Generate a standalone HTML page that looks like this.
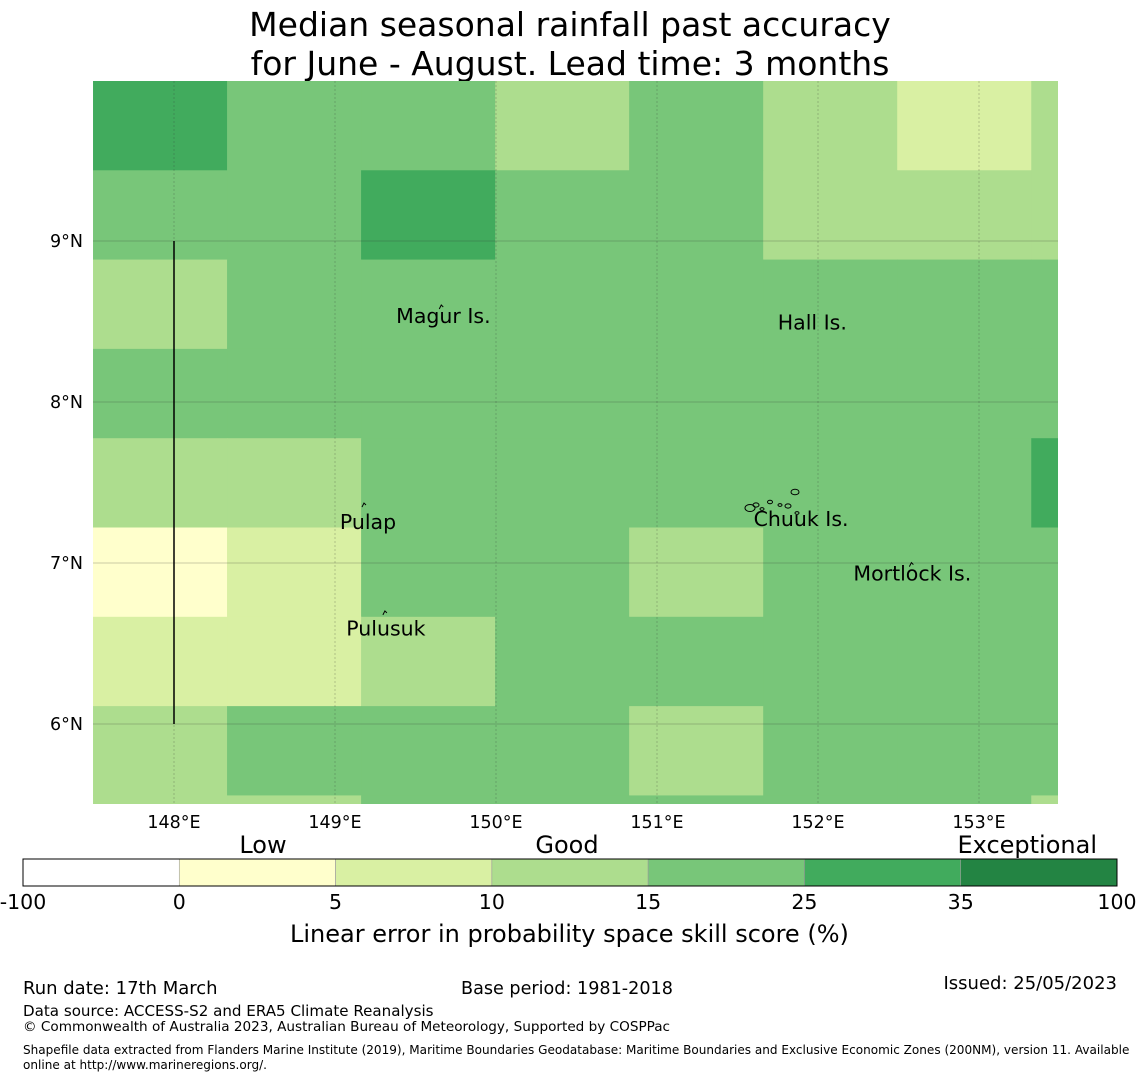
<!DOCTYPE html>
<html><head><meta charset="utf-8">
<style>
body{margin:0;background:#fff;}
svg{display:block;font-family:"DejaVu Sans","Liberation Sans",sans-serif;}
</style></head>
<body>
<svg id="chart" width="1140" height="1080" viewBox="0 0 1140 1080">
<text x="570" y="36" font-size="33" text-anchor="middle">Median seasonal rainfall past accuracy</text>
<text x="570" y="75" font-size="33" text-anchor="middle">for June - August. Lead time: 3 months</text>
<defs><clipPath id="mapclip"><rect x="93" y="81" width="965" height="723"/></clipPath></defs>
<g id="cells" clip-path="url(#mapclip)"></g>
<g id="grid" clip-path="url(#mapclip)"></g>
<g id="overlay"></g>
<g id="axes"></g>
<g id="cbar"></g>
<text x="290" y="942" font-size="24">Linear error in probability space skill score (%)</text>
<text x="23" y="994" font-size="18">Run date: 17th March</text>
<text x="461" y="994" font-size="17.6">Base period: 1981-2018</text>
<text x="1117" y="989" font-size="18" text-anchor="end">Issued: 25/05/2023</text>
<text x="23" y="1016" font-size="15.1">Data source: ACCESS-S2 and ERA5 Climate Reanalysis</text>
<text x="23" y="1031" font-size="13.6">© Commonwealth of Australia 2023, Australian Bureau of Meteorology, Supported by COSPPac</text>
<text x="23" y="1054" font-size="12.05">Shapefile data extracted from Flanders Marine Institute (2019), Maritime Boundaries Geodatabase: Maritime Boundaries and Exclusive Economic Zones (200NM), version 11. Available</text>
<text x="23" y="1069" font-size="12.05">online at http://www.marineregions.org/.</text>
</svg>
<script>
// grid values (skill score %), rows north to south
const row0 = [30,20,20,12,20,12,7,12];
const row1 = [20,20,30,20,20,12,12,12];
const row2 = [12,20,20,20,20,20,20,20];
const row3 = [20,20,20,20,20,20,20,20];
const row4 = [12,12,20,20,20,20,20,30];
const row5 = [3,7,20,20,12,20,20,20];
const row6 = [7,7,12,20,20,20,20,20];
const row7 = [12,20,20,20,12,20,20,20];
const row8 = [12,12,20,20,20,20,20,12];
const gridRows = [row0,row1,row2,row3,row4,row5,row6,row7,row8];
const lonTicks = [148,149,150,151,152,153];
const latTicks = [9,8,7,6];
const levels = [-100,0,5,10,15,25,35,100];
const levelColors = ["#ffffff","#ffffcc","#d9f0a3","#addd8e","#78c679","#41ab5d","#238443"];
const cbLabels = ["-100","0","5","10","15","25","35","100"];
const categoryNames = ["Low","Good","Exceptional"];
const places = [
 {name:"Magur Is.", lon:149.38, lat:8.49, mlon:149.66, mlat:8.59},
 {name:"Hall Is.", lon:151.75, lat:8.45, mlon:null, mlat:null},
 {name:"Pulap", lon:149.03, lat:7.21, mlon:149.18, mlat:7.36},
 {name:"Chuuk Is.", lon:151.6, lat:7.23, mlon:null, mlat:null},
 {name:"Mortlock Is.", lon:152.22, lat:6.89, mlon:152.58, mlat:6.99},
 {name:"Pulusuk", lon:149.07, lat:6.55, mlon:149.31, mlat:6.69}
];
const NS="http://www.w3.org/2000/svg";
const X = lon => 174 + (lon-148)*161;
const Y = lat => 241 - (lat-9)*161;
const lon0 = 147.497, lat0 = 9.994, dLon = 0.8325, dLat = 0.5547;
function colorFor(v){for(let i=0;i<levelColors.length;i++){if(v<levels[i+1])return levelColors[i];}return levelColors[levelColors.length-1];}
function mk(tag,attrs,parent){const e=document.createElementNS(NS,tag);for(const k in attrs)e.setAttribute(k,attrs[k]);parent.appendChild(e);return e;}
const cells=document.getElementById('cells');
gridRows.forEach((row,r)=>row.forEach((v,c)=>{
  const x1=X(lon0+c*dLon), x2=X(lon0+(c+1)*dLon), y1=Y(lat0-r*dLat), y2=Y(lat0-(r+1)*dLat);
  const e=mk('rect',{x:x1,y:y1,width:x2-x1+0.5,height:y2-y1+0.5,fill:colorFor(v)},cells);
  
  
}));
const grid=document.getElementById('grid');
const axes=document.getElementById('axes');
lonTicks.forEach(l=>{
  const g=mk('line',{x1:X(l),x2:X(l),y1:81,y2:804,stroke:"#333",'stroke-width':0.5,'stroke-dasharray':"2,2",opacity:0.5},grid);
  
  
  const t=mk('text',{x:X(l),y:828,'font-size':17.5,'text-anchor':'middle'},axes);t.textContent=l+"°E";
  
  
});
latTicks.forEach(l=>{
  const g=mk('line',{x1:93,x2:1058,y1:Y(l),y2:Y(l),stroke:"#333",'stroke-width':0.5,opacity:0.5},grid);
  
  
  const t=mk('text',{x:83,y:Y(l)+6,'font-size':17.5,'text-anchor':'end'},axes);t.textContent=l+"°N";
  
  
});
const ov=document.getElementById('overlay');
const bl=mk('line',{x1:X(148),x2:X(148),y1:Y(9),y2:Y(6),stroke:"#000",'stroke-width':1.5},ov);


places.forEach(p=>{
  const t=mk('text',{x:X(p.lon),y:Y(p.lat),'font-size':20.5},ov);t.textContent=p.name;
  
  
  if(p.mlon!==null){
    const m=mk('path',{d:`M${X(p.mlon)-2},${Y(p.mlat)+2} l2,-4 l2,2`,fill:"none",stroke:"#000",'stroke-width':1},ov);
    
    
  }
});
// Chuuk lagoon islands
[[750,508,5],[756,505,3],[770,502,2.5],[780,505,2],[788,506,3],[795,492,4],[797,513,2],[762,509,2]].forEach(a=>{
  const e=mk('ellipse',{cx:a[0],cy:a[1],rx:a[2],ry:a[2]*0.7,fill:"none",stroke:"#000",'stroke-width':1},ov);
  
  
});
// colorbar
const cb=document.getElementById('cbar');
const cbx0=23, cbw=1094, n=levelColors.length, segw=cbw/n;
levelColors.forEach((c,i)=>{
  const r=mk('rect',{x:cbx0+i*segw,y:859,width:segw,height:27,fill:c,stroke:"#999",'stroke-width':0.6},cb);
  
  
});
const fr=mk('rect',{x:cbx0,y:859,width:cbw,height:27,fill:"none",stroke:"#000",'stroke-width':1},cb);


cbLabels.forEach((l,i)=>{
  const t=mk('text',{x:cbx0+i*segw,y:909,'font-size':20.5,'text-anchor':'middle'},cb);t.textContent=l;
  
  
});
[[263,"middle"],[567,"middle"],[1097,"end"]].forEach((p,i)=>{
  const t=mk('text',{x:p[0],y:853,'font-size':24,'text-anchor':p[1]},cb);t.textContent=categoryNames[i];
  
  
});
</script>
</body></html>
